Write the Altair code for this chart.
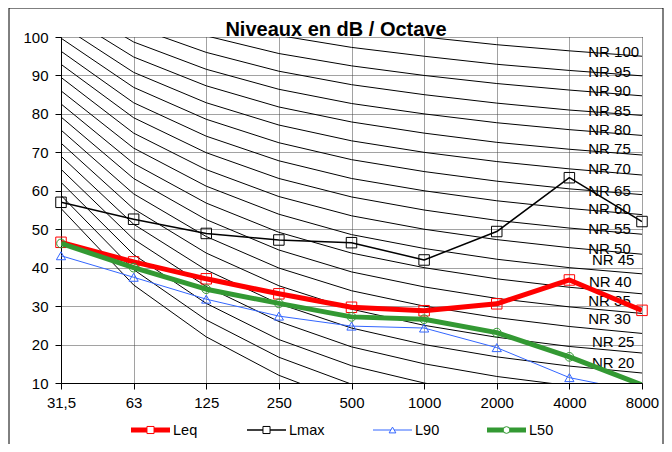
import json
import altair as alt
import pandas as pd

# ---------------- data ----------------
freq_labels = ["31,5", "63", "125", "250", "500", "1000", "2000", "4000", "8000"]

leq = [46.6, 41.5, 37.1, 33.2, 29.7, 28.8, 30.6, 36.8, 28.9]
lmax = [57.0, 52.6, 48.9, 47.2, 46.5, 42.0, 49.4, 63.4, 52.0]
l90 = [43.1, 37.5, 31.8, 27.4, 24.8, 24.3, 19.2, 11.4, 7.6]
l50 = [46.3, 40.0, 34.4, 30.7, 27.2, 26.6, 23.1, 16.8, 9.5]

# Noise Rating curves (NR 0 ... NR 100), level per octave band
nr_levels = [0, 5, 10, 15, 20, 25, 30, 35, 40, 45, 50, 55, 60, 65, 70, 75, 80, 85, 90, 95, 100]
nr_31_5 = [55.4, 58.8, 62.2, 65.6, 69.0, 72.4, 75.8, 79.2, 82.6, 86.0, 89.5, 92.9, 96.3, 99.7, 103.1, 106.5, 109.9, 113.3, 116.7, 120.1, 123.5]
nr_63 = [35.5, 39.5, 43.4, 47.4, 51.3, 55.3, 59.2, 63.2, 67.1, 71.1, 75.0, 79.0, 82.9, 86.9, 90.8, 94.8, 98.7, 102.7, 106.6, 110.6, 114.5]
nr_125 = [22.0, 26.4, 30.7, 35.1, 39.4, 43.8, 48.1, 52.5, 56.8, 61.2, 65.5, 69.9, 74.2, 78.6, 82.9, 87.3, 91.6, 96.0, 100.3, 104.7, 109.0]
nr_250 = [12.0, 16.7, 21.3, 26.0, 30.6, 35.3, 39.9, 44.6, 49.2, 53.9, 58.5, 63.2, 67.8, 72.5, 77.1, 81.8, 86.4, 91.1, 95.7, 100.4, 105.0]
nr_500 = [4.8, 9.7, 14.5, 19.4, 24.3, 29.2, 34.0, 38.9, 43.8, 48.6, 53.5, 58.4, 63.2, 68.1, 73.0, 77.9, 82.7, 87.6, 92.5, 97.3, 102.2]
nr_1000 = [0.0, 5.0, 10.0, 15.0, 20.0, 25.0, 30.0, 35.0, 40.0, 45.0, 50.0, 55.0, 60.0, 65.0, 70.0, 75.0, 80.0, 85.0, 90.0, 95.0, 100.0]
nr_2000 = [-3.5, 1.6, 6.7, 11.7, 16.8, 21.9, 27.0, 32.0, 37.1, 42.2, 47.3, 52.3, 57.4, 62.5, 67.6, 72.6, 77.7, 82.8, 87.9, 92.9, 98.0]
nr_4000 = [-6.1, -1.0, 4.2, 9.3, 14.4, 19.5, 24.7, 29.8, 34.9, 40.0, 45.2, 50.3, 55.4, 60.5, 65.7, 70.8, 75.9, 81.0, 86.2, 91.3, 96.4]
nr_8000 = [-8.0, -2.9, 2.3, 7.5, 12.6, 17.8, 22.9, 28.1, 33.2, 38.4, 43.5, 48.7, 53.8, 59.0, 64.1, 69.3, 74.4, 79.6, 84.7, 89.9, 95.0]

nr_label_text = ["NR 100", "NR 95", "NR 90", "NR 85", "NR 80", "NR 75", "NR 70", "NR 65", "NR 60",
                 "NR 55", "NR 50", "NR 45", "NR 40", "NR 35", "NR 30", "NR 25", "NR 20"]
nr_label_db = [96.2, 91.0, 86.0, 80.8, 75.8, 70.8, 65.6, 60.0, 55.2, 50.0, 44.9, 42.0, 36.4, 31.2, 26.7, 20.7, 15.1]
nr_label_pos = [7.26, 7.26, 7.26, 7.26, 7.26, 7.26, 7.26, 7.26, 7.26, 7.26, 7.26, 7.31, 7.27, 7.26, 7.26, 7.31, 7.31]

series_names = ["Leq", "Lmax", "L90", "L50"]
series_values = [leq, lmax, l90, l50]
chart_title = "Niveaux en dB / Octave"

# ---------------- tables ----------------
rows = []
for name, vals in zip(series_names, series_values):
    for i, v in enumerate(vals):
        rows.append({"series": name, "i": i, "db": v})
df = pd.DataFrame(rows)

nr_bands = [nr_31_5, nr_63, nr_125, nr_250, nr_500, nr_1000, nr_2000, nr_4000, nr_8000]
nr_rows = []
for k, level in enumerate(nr_levels):
    for i, band in enumerate(nr_bands):
        nr_rows.append({"nr": level, "i": i, "db": band[k]})
nr_df = pd.DataFrame(nr_rows)

lab_df = pd.DataFrame({"label": nr_label_text, "db": nr_label_db, "i": nr_label_pos})

# ---------------- styles ----------------
FONT = "Liberation Sans"
styles = {
    "Leq": dict(color="#FF0000", width=5, shape="square", size=110, lsize=50),
    "Lmax": dict(color="#000000", width=1.5, shape="square", size=110, lsize=50),
    "L90": dict(color="#3366FF", width=1, shape="triangle-up", size=85, lsize=45),
    "L50": dict(color="#339933", width=5, shape="circle", size=75, lsize=45),
}

label_expr = json.dumps(freq_labels) + "[datum.value]"
x_enc = alt.X("i:Q",
              scale=alt.Scale(domain=[0, 8], nice=False, zero=False),
              axis=alt.Axis(values=list(range(9)), labelExpr=label_expr, title=None,
                            labelFlush=False, labelOverlap=False, labelPadding=6))
y_enc = alt.Y("db:Q",
              scale=alt.Scale(domain=[10, 100], nice=False, zero=False),
              axis=alt.Axis(values=list(range(10, 101, 10)), title=None,
                            labelFlush=False, labelOverlap=False, labelPadding=7))

layers = []

# NR curves
layers.append(
    alt.Chart(nr_df).mark_line(color="black", strokeWidth=1, clip=True).encode(
        x=x_enc, y=y_enc, detail="nr:N"
    )
)

# NR labels
layers.append(
    alt.Chart(lab_df).mark_text(align="left", baseline="middle", fontSize=15, font=FONT,
                                color="black").encode(
        x=x_enc, y=y_enc, text="label:N"
    )
)

# Measured series
for name in series_names:
    st = styles[name]
    sub = df[df["series"] == name]
    layers.append(
        alt.Chart(sub).mark_line(color=st["color"], strokeWidth=st["width"], clip=True,
                                 strokeJoin="round").encode(x=x_enc, y=y_enc)
    )
    layers.append(
        alt.Chart(sub).transform_filter(alt.datum.db >= 10).mark_point(
            shape=st["shape"], size=st["size"], filled=False,
            color=st["color"], strokeWidth=1, opacity=1).encode(x=x_enc, y=y_enc)
    )

# Custom legend (below plot)
one = pd.DataFrame({"k": [0]})
LEG_X0 = [70, 186, 312, 426]
LEG_Y = 393
for name, x0 in zip(series_names, LEG_X0):
    st = styles[name]
    layers.append(alt.Chart(one).mark_rule(color=st["color"], strokeWidth=st["width"]).encode(
        x=alt.value(x0), x2=alt.value(x0 + 39), y=alt.value(LEG_Y)))
    layers.append(alt.Chart(one).mark_point(shape=st["shape"], size=st["lsize"], filled=True,
                                            fill="white", stroke=st["color"], strokeWidth=1,
                                            opacity=1).encode(
        x=alt.value(x0 + 19.5), y=alt.value(LEG_Y)))
    layers.append(alt.Chart(one).mark_text(align="left", baseline="middle", fontSize=14.5,
                                           font=FONT, color="black").encode(
        x=alt.value(x0 + 42), y=alt.value(LEG_Y + 1), text=alt.value(name)))

# Chart title (centred on the outer frame)
layers.append(alt.Chart(one).mark_text(align="center", baseline="alphabetic", fontSize=20,
                                       fontWeight="bold", font=FONT, color="black").encode(
    x=alt.value(275), y=alt.value(-1), text=alt.value(chart_title)))

# Outer chart frame
layers.append(alt.Chart(one).mark_rect(fill=None, fillOpacity=0, stroke="black",
                                       strokeWidth=1).encode(
    x=alt.value(-52), x2=alt.value(602), y=alt.value(-29), y2=alt.value(430)))

chart = alt.layer(*layers).properties(
    width=581,
    height=346,
    autosize=alt.AutoSizeParams(type="none"),
    padding={"left": 53, "top": 29, "right": 22, "bottom": 61},
).configure_axis(
    labelFont=FONT, labelFontSize=15, labelColor="black",
    domainColor="black", domainWidth=1,
    tickColor="black", tickSize=6, tickWidth=1,
    grid=True, gridColor="#444444", gridDash=[1, 1], gridWidth=1, gridOpacity=1,
).configure_view(stroke=None)

chart.save("out.html", embed_options={"renderer": "svg", "actions": False})
